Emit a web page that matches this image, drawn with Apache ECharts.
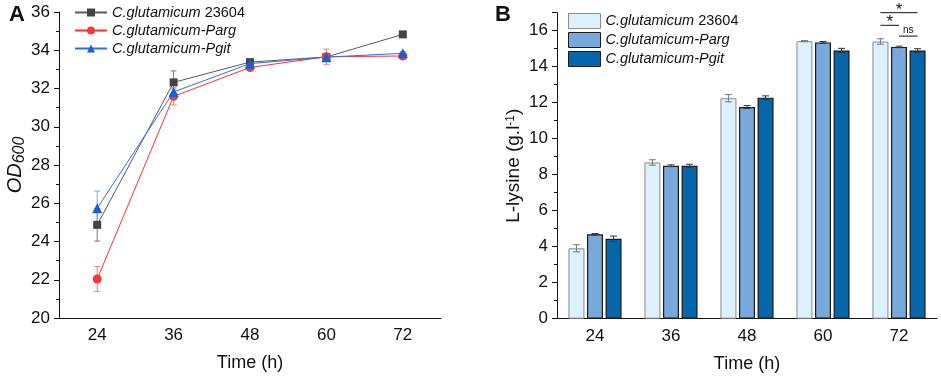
<!DOCTYPE html>
<html>
<head>
<meta charset="utf-8">
<title>ECharts</title>
<script src="https://cdn.jsdelivr.net/npm/echarts@6/dist/echarts.min.js"></script>
</head>
<style>
html, body { margin:0; width:100%; height:100%; background:#fff; }
div#main { width:941px; height:379px; }
</style>
<body>
<div id="main"></div>
<script type="text/javascript">
var times = ['24', '36', '48', '60', '72'];
var strains = ['C.glutamicum 23604', 'C.glutamicum-Parg', 'C.glutamicum-Pgit'];

// panel A: OD600
var odWild = [24.87, 32.32, 33.38, 33.65, 34.83];
var odParg = [22.04, 31.59, 33.10, 33.66, 33.70];
var odPgit = [25.74, 31.82, 33.30, 33.64, 33.84];
var odWildErr = [0.85, 0.6, 0.12, 0.1, 0.1];
var odPargErr = [0.65, 0.45, 0.1, 0.4, 0.08];
var odPgitErr = [0.9, 0.15, 0.15, 0.12, 0.1];

// panel B: L-lysine titre
var lysWild = [3.91, 8.68, 12.25, 15.42, 15.40];
var lysParg = [4.69, 8.50, 11.76, 15.35, 15.10];
var lysPgit = [4.44, 8.50, 12.28, 14.90, 14.90];
var lysWildErr = [0.2, 0.15, 0.2, 0.03, 0.15];
var lysPargErr = [0.04, 0.05, 0.08, 0.05, 0.04];
var lysPgitErr = [0.15, 0.08, 0.1, 0.12, 0.1];

// significance marks at 72 h: bar pair, level, text
var sigPairs = [[0, 2], [0, 1], [1, 2]];
var sigLevels = [17.0, 16.3, 15.7];
var sigText = ['*', '*', 'ns'];

var font = 'Arial, "Liberation Sans", sans-serif';
var barW = 16, barGapPct = 0.16;
var barStep = barW * (1 + barGapPct);
var barFill = ['#dcf1fb', '#79a8da', '#0666ab'];
var barEdge = ['#8c8c8c', '#1a1a1a', '#1a1a1a'];

function triples(vals, errs) {
    return vals.map(function (v, i) { return [i, v, errs[i]]; });
}

function errRender(color, offset, cap) {
    return function (params, api) {
        var i = api.value(0), v = api.value(1), e = api.value(2);
        var t = api.coord([i, v + e]), b = api.coord([i, v - e]);
        var x = t[0] + offset;
        var st = { stroke: color, lineWidth: 1 };
        return {
            type: 'group',
            children: [
                { type: 'line', shape: { x1: x, y1: t[1], x2: x, y2: b[1] }, style: st },
                { type: 'line', shape: { x1: x - cap, y1: t[1], x2: x + cap, y2: t[1] }, style: st },
                { type: 'line', shape: { x1: x - cap, y1: b[1], x2: x + cap, y2: b[1] }, style: st }
            ]
        };
    };
}

function legendFmt(name) {
    if (name.indexOf(' ') > 0) {
        var p = name.split(' ');
        return '{i|' + p[0] + '} ' + p[1];
    }
    return '{i|' + name + '}';
}

var axisLine = { show: true, lineStyle: { color: '#111', width: 1 } };
var tickLabel = { color: '#111', fontSize: 17, fontFamily: font, margin: 9 };
var legendText = { fontSize: 14.5, color: '#111', fontFamily: font, rich: { i: { fontStyle: 'italic', fontSize: 14.5, fontFamily: font } } };

var myChart = echarts.init(document.getElementById('main'));
var option = {
    animation: false,
    title: [
        { text: 'A', left: 4, top: -1, textStyle: { fontSize: 22, fontWeight: 'bold', color: '#111', fontFamily: font } },
        { text: 'B', left: 490, top: -1, textStyle: { fontSize: 22, fontWeight: 'bold', color: '#111', fontFamily: font } }
    ],
    legend: [
        {
            data: strains, orient: 'vertical', left: 69, top: 0, itemWidth: 32, itemHeight: 10, itemGap: 3,
            formatter: legendFmt, textStyle: legendText
        },
        {
            data: strains.map(function (n, k) {
                return { name: n, itemStyle: { color: barFill[k], borderColor: barEdge[k], borderWidth: 1 } };
            }),
            orient: 'vertical', left: 563, top: 8, itemWidth: 32, itemHeight: 15, itemGap: 3,
            formatter: legendFmt, icon: 'rect', textStyle: legendText
        }
    ],
    grid: [
        { left: 59, top: 12, width: 382, bottom: 61 },
        { left: 557, top: 12.7, right: 4, bottom: 60.3 }
    ],
    xAxis: [
        {
            gridIndex: 0, type: 'category', data: times,
            name: 'Time (h)', nameLocation: 'middle', nameGap: 36,
            nameTextStyle: { fontSize: 18, color: '#111', fontFamily: font },
            axisLine: axisLine, axisTick: { alignWithLabel: true, length: 5, lineStyle: { color: '#111' } },
            axisLabel: tickLabel, splitLine: { show: false }
        },
        {
            gridIndex: 1, type: 'category', data: times,
            name: 'Time (h)', nameLocation: 'middle', nameGap: 36,
            nameTextStyle: { fontSize: 18, color: '#111', fontFamily: font },
            axisLine: axisLine, axisTick: { alignWithLabel: false, length: 5, lineStyle: { color: '#111' } },
            axisLabel: tickLabel, splitLine: { show: false }
        }
    ],
    yAxis: [
        {
            gridIndex: 0, type: 'value', min: 20, max: 36, interval: 2,
            name: '{a|OD}{b|600}', nameLocation: 'middle', nameGap: 21, nameRotate: 90,
            nameTextStyle: {
                color: '#111', fontFamily: font,
                rich: {
                    a: { fontSize: 20, fontStyle: 'italic', fontFamily: font, lineHeight: 24 },
                    b: { fontSize: 16, fontStyle: 'italic', fontFamily: font, lineHeight: 16, padding: [8, 0, 0, 0], verticalAlign: 'bottom' }
                }
            },
            axisLine: axisLine, axisTick: { show: true, length: 5, lineStyle: { color: '#111' } },
            minorTick: { show: true, splitNumber: 2, length: 3, lineStyle: { color: '#111' } },
            axisLabel: tickLabel, splitLine: { show: false }
        },
        {
            gridIndex: 1, type: 'value', min: 0, max: 17, interval: 2,
            name: 'L-lysine (g.l{s|-1})', nameLocation: 'middle', nameGap: 22, nameRotate: 90,
            nameTextStyle: {
                fontSize: 19, color: '#111', fontFamily: font,
                rich: { s: { fontSize: 12, fontFamily: font, lineHeight: 12, padding: [0, 0, 9, 0], verticalAlign: 'top' } }
            },
            axisLine: axisLine, axisTick: { show: true, length: 5, lineStyle: { color: '#111' } },
            minorTick: { show: true, splitNumber: 2, length: 3, lineStyle: { color: '#111' } },
            axisLabel: Object.assign({ showMaxLabel: false }, tickLabel), splitLine: { show: false }
        }
    ],
    series: [
        // error bars, panel A
        { type: 'custom', xAxisIndex: 0, yAxisIndex: 0, data: triples(odWild, odWildErr), renderItem: errRender('#7a7a7a', 0, 3), z: 1, clip: false },
        { type: 'custom', xAxisIndex: 0, yAxisIndex: 0, data: triples(odParg, odPargErr), renderItem: errRender('#f08080', 0, 3), z: 1, clip: false },
        { type: 'custom', xAxisIndex: 0, yAxisIndex: 0, data: triples(odPgit, odPgitErr), renderItem: errRender('#7fa8ea', 0, 3), z: 1, clip: false },
        // lines, panel A
        {
            name: strains[0], type: 'line', xAxisIndex: 0, yAxisIndex: 0, data: odWild,
            symbol: 'rect', symbolSize: 8, lineStyle: { color: '#5a5a5a', width: 1 },
            itemStyle: { color: '#444' }, z: 3
        },
        {
            name: strains[1], type: 'line', xAxisIndex: 0, yAxisIndex: 0, data: odParg,
            symbol: 'circle', symbolSize: 9, lineStyle: { color: '#ff3030', width: 1 },
            itemStyle: { color: '#f23a3a' }, z: 3
        },
        {
            name: strains[2], type: 'line', xAxisIndex: 0, yAxisIndex: 0, data: odPgit,
            symbol: 'triangle', symbolSize: 10, lineStyle: { color: '#2f6fe4', width: 1 },
            itemStyle: { color: '#1560d6' }, z: 4
        },
        // bars, panel B
        {
            name: strains[0], type: 'bar', xAxisIndex: 1, yAxisIndex: 1, data: lysWild,
            barWidth: barW, barGap: (barGapPct * 100) + '%',
            itemStyle: { color: barFill[0], borderColor: barEdge[0], borderWidth: 1 }
        },
        {
            name: strains[1], type: 'bar', xAxisIndex: 1, yAxisIndex: 1, data: lysParg,
            barWidth: barW, barGap: (barGapPct * 100) + '%',
            itemStyle: { color: barFill[1], borderColor: barEdge[1], borderWidth: 1.2 }
        },
        {
            name: strains[2], type: 'bar', xAxisIndex: 1, yAxisIndex: 1, data: lysPgit,
            barWidth: barW, barGap: (barGapPct * 100) + '%',
            itemStyle: { color: barFill[2], borderColor: barEdge[2], borderWidth: 1.2 }
        },
        // error bars, panel B
        { type: 'custom', xAxisIndex: 1, yAxisIndex: 1, data: triples(lysWild, lysWildErr), renderItem: errRender('#777', -barStep, 3.5), z: 5, clip: false },
        { type: 'custom', xAxisIndex: 1, yAxisIndex: 1, data: triples(lysParg, lysPargErr), renderItem: errRender('#333', 0, 3.5), z: 5, clip: false },
        { type: 'custom', xAxisIndex: 1, yAxisIndex: 1, data: triples(lysPgit, lysPgitErr), renderItem: errRender('#333', barStep, 3.5), z: 5, clip: false },
        // significance marks
        {
            type: 'custom', xAxisIndex: 1, yAxisIndex: 1, clip: false, z: 6,
            data: sigLevels.map(function (lv, k) { return [4, lv, k]; }),
            renderItem: function (params, api) {
                var k = api.value(2);
                var p = api.coord([api.value(0), api.value(1)]);
                var pr = sigPairs[k];
                var x1 = p[0] + (pr[0] - 1) * barStep, x2 = p[0] + (pr[1] - 1) * barStep;
                var isNs = sigText[k] === 'ns';
                return {
                    type: 'group',
                    children: [
                        { type: 'line', shape: { x1: x1, y1: p[1], x2: x2, y2: p[1] }, style: { stroke: '#111', lineWidth: 1 } },
                        {
                            type: 'text',
                            style: {
                                text: sigText[k], x: (x1 + x2) / 2, y: p[1] + (isNs ? -1 : 6),
                                align: 'center', verticalAlign: 'bottom',
                                fontSize: isNs ? 10 : 17, fontFamily: font, fill: '#111'
                            }
                        }
                    ]
                };
            }
        }
    ]
};
myChart.setOption(option);
</script>
</body>
</html>
